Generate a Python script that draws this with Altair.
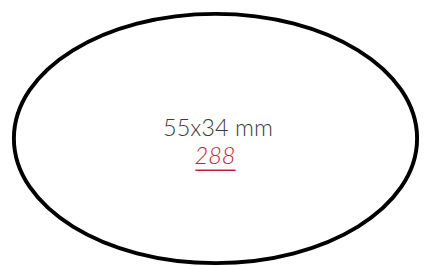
import altair as alt
import pandas as pd

# Data
size_w_mm = [55]
size_h_mm = [34]
quantity = [288]
unit = ["mm"]

df = pd.DataFrame({
    "w": size_w_mm,
    "h": size_h_mm,
    "qty": quantity,
    "unit": unit,
})
df["label"] = df["w"].astype(str) + "x" + df["h"].astype(str) + " " + df["unit"]
df["qty_label"] = df["qty"].astype(str)

ratio = size_h_mm[0] / size_w_mm[0]
shape_path = (
    f"M -1 0 A 1 {ratio:.5f} 0 1 0 1 0 A 1 {ratio:.5f} 0 1 0 -1 0 Z"
)

W, H = 422, 258
cx, cy = 211.5, 130.5
rx = 205.5

base = alt.Chart(df)

ellipse = base.mark_point(
    shape=shape_path, filled=False, stroke="#000000", strokeWidth=4, opacity=1
).encode(
    x=alt.value(cx), y=alt.value(cy), size=alt.value((2 * rx) ** 2)
)

label = base.mark_text(
    font="Lato", fontWeight=300, fontSize=24, color="#3c3c3c",
    align="center", baseline="alphabetic"
).encode(x=alt.value(214), y=alt.value(128), text="label:N")

qty = base.mark_text(
    font="Lato", fontWeight=300, fontStyle="italic", fontSize=24, color="#c41e3a",
    align="center", baseline="alphabetic"
).encode(x=alt.value(211), y=alt.value(157), text="qty_label:N")

underline = base.mark_rule(color="#c41e3a", strokeWidth=1.5).encode(
    x=alt.value(191), x2=alt.value(232), y=alt.value(163)
)

chart = alt.layer(ellipse, label, qty, underline).properties(
    width=W, height=H, padding=0, autosize=alt.AutoSizeParams(type="none")
).configure_view(stroke=None)

chart.save("out.html", embed_options={"renderer": "svg", "actions": False})
